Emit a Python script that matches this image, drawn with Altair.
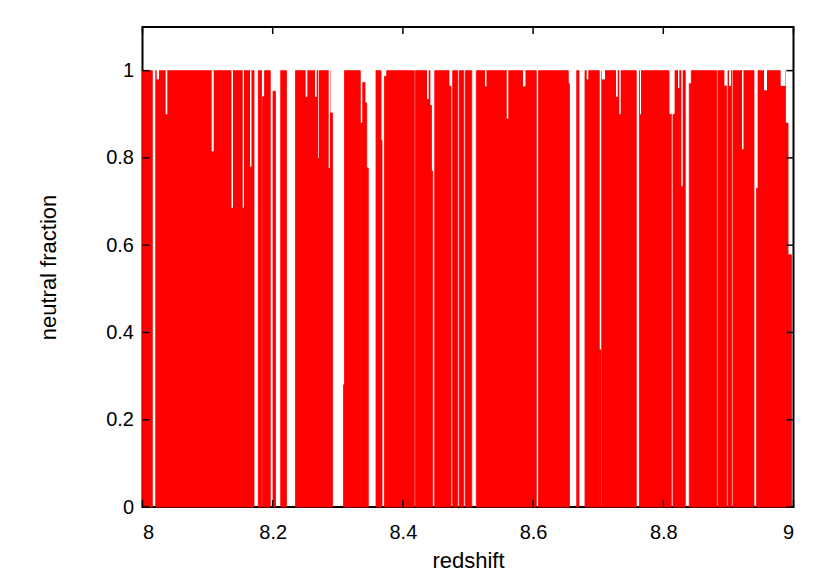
import altair as alt
import pandas as pd

# Red bands where the neutral-fraction curve fills from 0 up to "top"
band_start = [8.0000, 8.0203, 8.1779, 8.1843, 8.1874, 8.2005, 8.2123, 8.2350, 8.2880, 8.3088,
              8.3103, 8.3346, 8.3383, 8.3418, 8.3444, 8.3587, 8.3664, 8.3717, 8.3751, 8.4191,
              8.4416, 8.4439, 8.4489, 8.4708, 8.4765, 8.4866, 8.4959, 8.5128, 8.6083, 8.6541,
              8.6670, 8.6797, 8.7017, 8.7054, 8.7634, 8.8088, 8.8149, 8.8180, 8.8399, 8.8430,
              8.8840, 8.8932, 8.8994, 8.9071, 8.9432, 8.9455, 8.9877, 8.9916]
band_end = [8.0151, 8.1713, 8.1828, 8.1874, 8.1963, 8.2043, 8.2212, 8.2880, 8.2919, 8.3103,
            8.3346, 8.3383, 8.3418, 8.3444, 8.3469, 8.3664, 8.3679, 8.3751, 8.4175, 8.4416,
            8.4439, 8.4458, 8.4708, 8.4739, 8.4842, 8.4934, 8.5058, 8.6049, 8.6541, 8.6559,
            8.6705, 8.7017, 8.7043, 8.7585, 8.8088, 8.8123, 8.8180, 8.8338, 8.8430, 8.8820,
            8.8932, 8.8974, 8.9051, 8.9393, 8.9455, 8.9877, 8.9916, 8.9969]
band_top = [1, 1, 1, 0.94, 1, 0.953, 1, 1, 0.903, 0.28,
            1, 0.88, 0.973, 0.926, 0.777, 1, 0.84, 0.987, 1, 1,
            0.92, 0.77, 1, 0.964, 1, 1, 1, 1, 1, 0.97,
            1, 1, 0.36, 1, 1, 0.90, 0.90, 1, 0.97, 1,
            1, 0.965, 1, 1, 0.73, 1, 0.88, 0.578]

# Narrow dips from 1 down to "level"
dip_start = [8.0218, 8.0356, 8.1063, 8.1367, 8.1539, 8.1651, 8.2507, 8.2650, 8.2696, 8.2860,
             8.4370, 8.5261, 8.5595, 8.5845, 8.6823, 8.7054, 8.7273, 8.7324, 8.7642, 8.8226,
             8.8277, 8.9009, 8.9209, 8.9547, 8.9803]
dip_end = [8.0254, 8.0381, 8.1094, 8.1390, 8.1559, 8.1674, 8.2532, 8.2676, 8.2707, 8.2880,
           8.4396, 8.5284, 8.5619, 8.5883, 8.6848, 8.7105, 8.7300, 8.7346, 8.7658, 8.8246,
           8.8298, 8.9040, 8.9232, 8.9593, 8.9877]
dip_level = [0.98, 0.90, 0.815, 0.686, 0.686, 0.78, 0.94, 0.94, 0.80, 0.777,
             0.935, 0.964, 0.89, 0.964, 0.98, 0.98, 0.94, 0.90, 0.90, 0.96,
             0.735, 0.965, 0.82, 0.955, 0.965]

x_ticks = [8.0, 8.2, 8.4, 8.6, 8.8, 9.0]
y_ticks = [0.0, 0.2, 0.4, 0.6, 0.8, 1.0]

W, H = 651, 480
FONT = "Liberation Sans"

bands = pd.DataFrame({"z0": band_start, "z1": band_end, "top": band_top,
                      "base": [0.0] * len(band_start)})
dips = pd.DataFrame({"z0": dip_start, "z1": dip_end, "level": dip_level,
                     "one": [1.006] * len(dip_start)})
xt = pd.DataFrame({"v": x_ticks})
yt = pd.DataFrame({"v": y_ticks})

xscale = alt.Scale(domain=[8, 9], nice=False, zero=False)
yscale = alt.Scale(domain=[0, 1.1], nice=False)

xaxis = alt.Axis(values=x_ticks, format="~g", title="redshift", grid=False, ticks=False,
                 tickSize=0, domain=False, labelFont=FONT, labelFontSize=20,
                 labelColor="black", labelPadding=15, titleFont=FONT, titleFontSize=22,
                 titleFontWeight="normal", titleColor="black", titleBaseline="alphabetic",
                 titleY=60)
yaxis = alt.Axis(values=y_ticks, format="~g", title="neutral fraction", grid=False,
                 ticks=False, tickSize=0, domain=False, labelFont=FONT, labelFontSize=20,
                 labelColor="black", labelPadding=9, titleFont=FONT, titleFontSize=22,
                 titleFontWeight="normal", titleColor="black", titleBaseline="middle",
                 titleX=-94)

red = alt.Chart(bands).mark_rect(color="#ff0000", stroke="#ff0000", strokeWidth=0.8).encode(
    x=alt.X("z0:Q", scale=xscale, axis=xaxis),
    x2="z1:Q",
    y=alt.Y("top:Q", scale=yscale, axis=yaxis),
    y2="base:Q",
)

white = alt.Chart(dips).mark_rect(color="white").encode(
    x=alt.X("z0:Q", scale=xscale),
    x2="z1:Q",
    y=alt.Y("level:Q", scale=yscale),
    y2="one:Q",
)

tick_style = dict(color="black", strokeWidth=1.5)
bottom_ticks = alt.Chart(xt).mark_rule(**tick_style).encode(
    x=alt.X("v:Q", scale=xscale), y=alt.value(H), y2=alt.value(H - 7))
top_ticks = alt.Chart(xt).mark_rule(**tick_style).encode(
    x=alt.X("v:Q", scale=xscale), y=alt.value(0), y2=alt.value(7))
left_ticks = alt.Chart(yt).mark_rule(**tick_style).encode(
    y=alt.Y("v:Q", scale=yscale), x=alt.value(0), x2=alt.value(7))
right_ticks = alt.Chart(yt).mark_rule(**tick_style).encode(
    y=alt.Y("v:Q", scale=yscale), x=alt.value(W), x2=alt.value(W - 7))

chart = alt.layer(red, white, bottom_ticks, top_ticks, left_ticks, right_ticks).properties(
    width=W, height=H,
    autosize=alt.AutoSizeParams(type="none"),
    padding={"left": 134.5, "top": 19, "right": 28, "bottom": 66},
    background="white",
).configure_view(stroke="black", strokeWidth=2)

chart.save("out.html", embed_options={"renderer": "svg", "actions": False})
